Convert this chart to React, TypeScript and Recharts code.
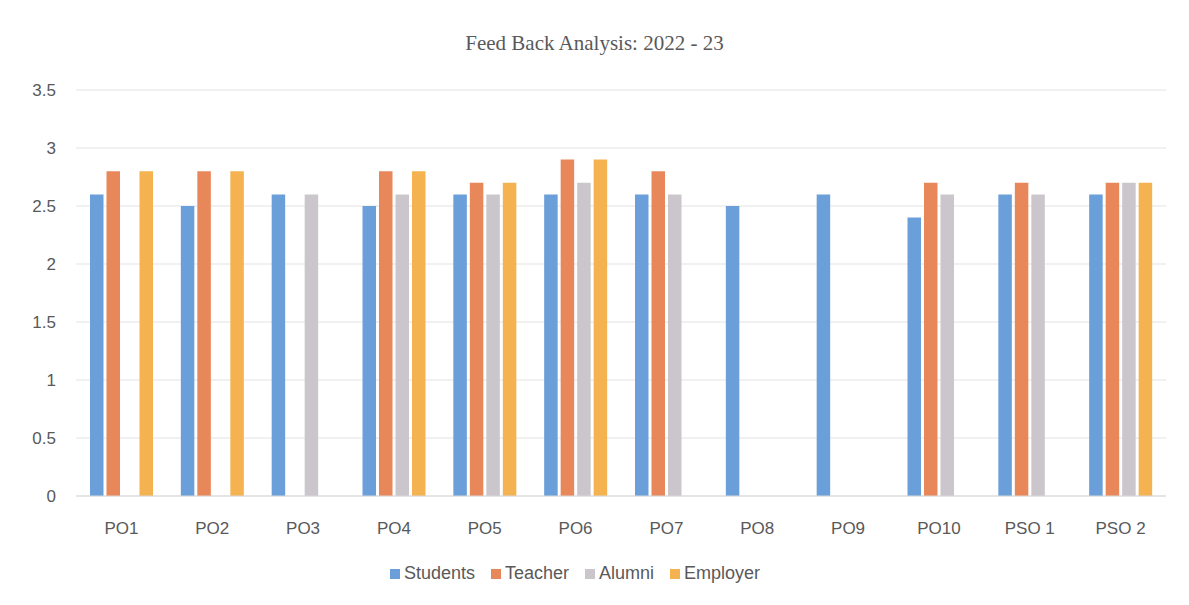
import { BarChart, Bar, XAxis, YAxis, CartesianGrid, Legend } from "recharts";

const categories = ["PO1", "PO2", "PO3", "PO4", "PO5", "PO6", "PO7", "PO8", "PO9", "PO10", "PSO 1", "PSO 2"];
const students = [2.6, 2.5, 2.6, 2.5, 2.6, 2.6, 2.6, 2.5, 2.6, 2.4, 2.6, 2.6];
const teacher = [2.8, 2.8, 0, 2.8, 2.7, 2.9, 2.8, 0, 0, 2.7, 2.7, 2.7];
const alumni = [0, 0, 2.6, 2.6, 2.6, 2.7, 2.6, 0, 0, 2.6, 2.6, 2.7];
const employer = [2.8, 2.8, 0, 2.8, 2.7, 2.9, 0, 0, 0, 0, 0, 2.7];
const yTicks = [0, 0.5, 1, 1.5, 2, 2.5, 3, 3.5];

const data = categories.map((name, i) => ({
  name,
  Students: students[i],
  Teacher: teacher[i],
  Alumni: alumni[i],
  Employer: employer[i],
}));

const font = "'Liberation Sans', sans-serif";

export default function App() {
  return (
    <div style={{ position: "absolute", left: 0, top: 0, width: 1189, height: 605, background: "#fff" }}>
      <div
        style={{
          position: "absolute",
          top: 31,
          left: 0,
          width: 1189,
          textAlign: "center",
          fontFamily: "'Liberation Serif', serif",
          fontSize: 21,
          color: "#595959",
        }}
      >
        Feed Back Analysis: 2022 - 23
      </div>
      <BarChart
        width={1189}
        height={605}
        data={data}
        margin={{ top: 90, right: 23, left: 0, bottom: 14 }}
        barSize={13.5}
        barGap={3}
      >
        <CartesianGrid vertical={false} stroke="#e3e3e3" />
        <XAxis
          dataKey="name"
          axisLine={{ stroke: "#d9d9d9" }}
          tickLine={false}
          tick={{ fill: "#595959", fontSize: 17, fontFamily: font }}
          tickMargin={20}
          height={45}
        />
        <YAxis
          domain={[0, 3.5]}
          ticks={yTicks}
          axisLine={false}
          tickLine={false}
          tickSize={0}
          tickMargin={20}
          width={76}
          tick={{ fill: "#595959", fontSize: 17, fontFamily: font }}
        />
        <Legend
          verticalAlign="bottom"
          iconType="square"
          iconSize={10}
          height={50}
          itemSorter={null}
          wrapperStyle={{ top: 563, fontFamily: font, fontSize: 18, color: "#595959" }}
          formatter={(v) => <span style={{ color: "#595959", marginRight: 6 }}>{v}</span>}
        />
        <Bar dataKey="Students" fill="#6a9fd9" isAnimationActive={false} />
        <Bar dataKey="Teacher" fill="#e8875a" isAnimationActive={false} />
        <Bar dataKey="Alumni" fill="#cbc6cc" isAnimationActive={false} />
        <Bar dataKey="Employer" fill="#f4b350" isAnimationActive={false} />
      </BarChart>
    </div>
  );
}
